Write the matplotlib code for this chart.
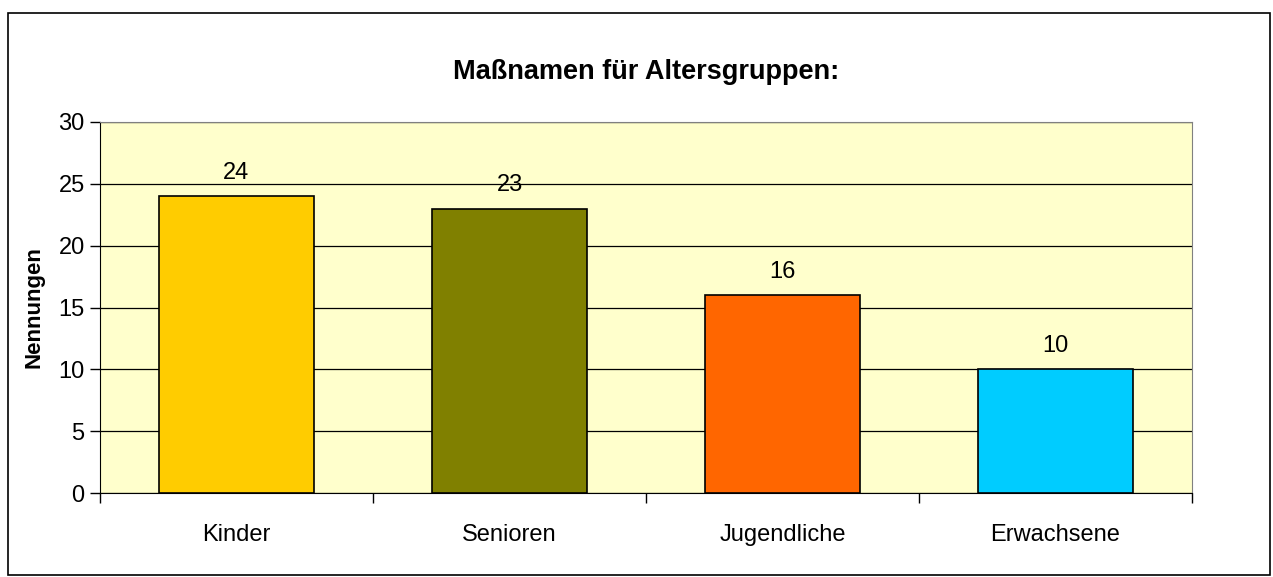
import matplotlib
matplotlib.use("Agg")
import matplotlib.pyplot as plt
from matplotlib.patches import Rectangle

categories = ["Kinder", "Senioren", "Jugendliche", "Erwachsene"]
values = [24, 23, 16, 10]
colors = ["#FFCC00", "#808000", "#FF6600", "#00CCFF"]

plt.rcParams["font.family"] = ["Liberation Sans", "DejaVu Sans"]

fig = plt.figure(figsize=(12.73, 5.77), dpi=100)
ax = fig.add_axes([100 / 1273, 1 - 493 / 577, 1092 / 1273, 371 / 577])

# outer chart border
fig.patches.append(Rectangle((8 / 1273, 2 / 577), 1262 / 1273, 562 / 577,
                             transform=fig.transFigure, fill=False,
                             edgecolor="black", linewidth=1.2))

ax.set_facecolor("#FFFFCC")
x = range(len(categories))
ax.bar(x, values, width=0.565, color=colors, edgecolor="black", linewidth=1.2, zorder=3)
for xi, v in zip(x, values):
    ax.text(xi, v + 1.0, str(v), ha="center", va="bottom", fontsize=17)

ax.set_xlim(-0.5, len(categories) - 0.5)
ax.set_ylim(0, 30)
ax.set_yticks(range(0, 31, 5))
ax.yaxis.grid(True, color="black", linewidth=0.9, zorder=1)
ax.set_axisbelow(True)

# category labels centred, ticks on boundaries
ax.set_xticks([i - 0.5 for i in range(len(categories) + 1)])
ax.set_xticklabels([])
ax.set_xticks(list(x), minor=True)
ax.set_xticklabels(categories, minor=True, fontsize=17)
ax.tick_params(axis="x", which="major", length=7, width=1, direction="out")
ax.tick_params(axis="x", which="minor", length=0, pad=22)
ax.tick_params(axis="y", length=7, width=1, labelsize=17, pad=4)

ax.spines["top"].set_color("#808080")
ax.spines["right"].set_color("#808080")
ax.spines["left"].set_color("black")
ax.spines["bottom"].set_color("black")

ax.set_ylabel("Nennungen", fontsize=16, fontweight="bold", labelpad=10)
fig.text(0.5 * (100 + 1192) / 1273, 1 - 72 / 577, "Maßnamen für Altersgruppen:",
         ha="center", va="center", fontsize=19.5, fontweight="bold")

fig.savefig("out.png", dpi=100)
